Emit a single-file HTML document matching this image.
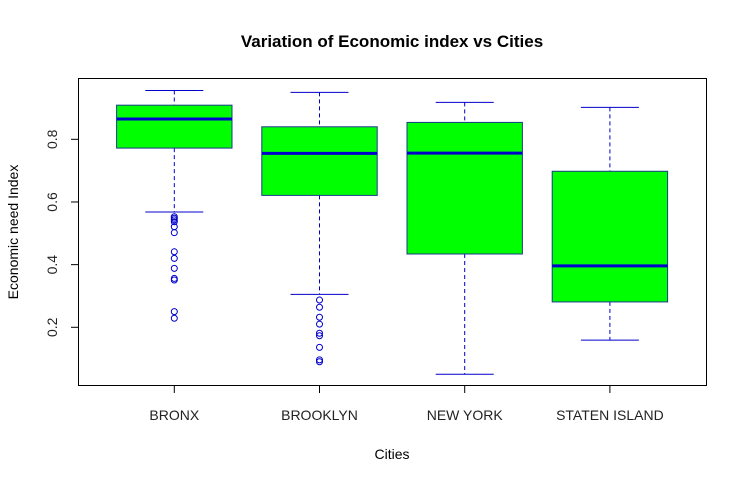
<!DOCTYPE html>
<html><head><meta charset="utf-8"><style>
body{margin:0;background:#fff;}
svg{display:block;font-family:"Liberation Sans",Arial,sans-serif;}
</style></head><body>
<svg id="chart" width="747" height="484">
<text x="392" y="47" text-anchor="middle" font-size="17" font-weight="bold">Variation of Economic index vs Cities</text>
<text x="392" y="459" text-anchor="middle" font-size="14">Cities</text>
<text transform="translate(18,232) rotate(-90)" text-anchor="middle" font-size="14">Economic need Index</text>
<rect x="78.5" y="78.5" width="628" height="307" fill="none" stroke="#000" stroke-width="1"/>
<g id="marks"></g>
</svg>
<script>
const categories=["BRONX","BROOKLYN","NEW YORK","STATEN ISLAND"];
const whiskerLow=[0.568,0.305,0.05,0.159];
const q1=[0.772,0.621,0.434,0.281];
const medians=[0.865,0.755,0.756,0.396];
const q3=[0.909,0.840,0.854,0.698];
const whiskerHigh=[0.956,0.950,0.918,0.902];
const outliers=[[0.553,0.548,0.543,0.537,0.521,0.502,0.441,0.420,0.388,0.356,0.351,0.250,0.229],[0.287,0.264,0.232,0.21,0.181,0.173,0.136,0.096,0.090],[],[]];
const yTicks=[0.2,0.4,0.6,0.8];
const yTickLabels=["0.2","0.4","0.6","0.8"];

const NS="http://www.w3.org/2000/svg";
const svg=document.getElementById('chart');
const g=document.getElementById('marks');
function y(v){return 327.3-(v-0.2)*313.3;}
function x(i){return 174.3+145.2*i;}
function mk(tag,attrs,parent){const e=document.createElementNS(NS,tag);for(const k in attrs)e.setAttribute(k,attrs[k]);(parent||g).appendChild(e);return e;}
const blue="#0000cc";
yTicks.forEach((t,i)=>{
  const l=mk('line',{x1:78.5,x2:71,y1:y(t),y2:y(t),stroke:'#000'});
  
  
  const tx=mk('text',{transform:`translate(57,${y(t)}) rotate(-90)`,'text-anchor':'middle','font-size':14,fill:'#222'});
  tx.textContent=yTickLabels[i];
  
  
});
categories.forEach((c,i)=>{
  const cx=x(i),hw=57.7,cw=29;
  const grp=mk('g',{});
  
  
  mk('line',{x1:cx,x2:cx,y1:y(whiskerHigh[i]),y2:y(q3[i]),stroke:blue,'stroke-dasharray':'4,3'},grp);
  mk('line',{x1:cx,x2:cx,y1:y(q1[i]),y2:y(whiskerLow[i]),stroke:blue,'stroke-dasharray':'4,3'},grp);
  mk('line',{x1:cx-cw,x2:cx+cw,y1:y(whiskerHigh[i]),y2:y(whiskerHigh[i]),stroke:blue},grp);
  mk('line',{x1:cx-cw,x2:cx+cw,y1:y(whiskerLow[i]),y2:y(whiskerLow[i]),stroke:blue},grp);
  mk('rect',{x:cx-hw,y:y(q3[i]),width:hw*2,height:y(q1[i])-y(q3[i]),fill:'#00ff00',stroke:'#1a3a8a','stroke-width':1},grp);
  mk('line',{x1:cx-hw,x2:cx+hw,y1:y(medians[i]),y2:y(medians[i]),stroke:blue,'stroke-width':3},grp);
  outliers[i].forEach(v=>{
    const p=mk('circle',{cx:cx,cy:y(v),r:3,fill:'none',stroke:blue},grp);
    
    
  });
  const tk=mk('line',{x1:cx,x2:cx,y1:385.5,y2:393,stroke:'#000'});
  
  
  const lb=mk('text',{x:cx,y:420,'text-anchor':'middle','font-size':14,fill:'#222'});
  lb.textContent=c;
  
  
});
</script>
</body></html>
